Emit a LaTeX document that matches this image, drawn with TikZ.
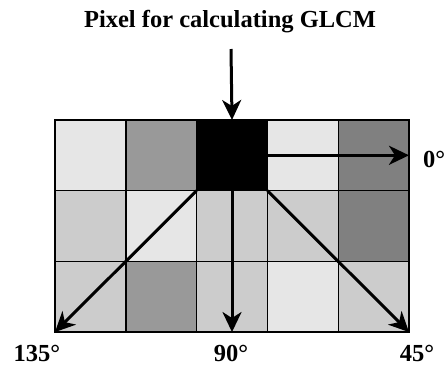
\documentclass[tikz,border=0pt]{standalone}
\usepackage{fontspec}
\setmainfont{Liberation Serif}
\usetikzlibrary{arrows.meta}
\definecolor{clair}{HTML}{E6E6E6}
\definecolor{moyen}{HTML}{CCCCCC}
\definecolor{fonce}{HTML}{999999}
\definecolor{sombre}{HTML}{808080}
\begin{document}
\begin{tikzpicture}[x=1pt,y=-1pt]
\tikzstyle{cell} = [draw, line width=1.4pt, minimum width=70.8pt, minimum height=70.67pt, inner sep=0pt, outer sep=0pt] %case de l'image
\tikzstyle{fleche} = [line width=3pt, -{Stealth[length=20pt,width=19pt,inset=6pt]}]
\tikzstyle{lbl} = [inner sep=0pt, font=\fontsize{24.5}{28}\selectfont\bfseries]

\useasboundingbox (0,0) rectangle (444,365);

%cases de la grille
\foreach \c/\f in {1/clair,2/fonce,3/black,4/clair,5/sombre}
  \node[cell,fill=\f] (c1\c) at ({55+70.8*(\c-0.5)},155.3) {};
\foreach \c/\f in {1/moyen,2/clair,3/moyen,4/moyen,5/sombre}
  \node[cell,fill=\f] (c2\c) at ({55+70.8*(\c-0.5)},226) {};
\foreach \c/\f in {1/moyen,2/fonce,3/moyen,4/clair,5/moyen}
  \node[cell,fill=\f] (c3\c) at ({55+70.8*(\c-0.5)},296.7) {};

%titre
\node[lbl,anchor=base] (titre) at (230,27) {Pixel for calculating GLCM};
\coordinate (entree) at (231,49);
\draw[fleche] (entree)--(c13.north);

%directions
\draw[fleche] (c13.east)--(c15.east);
\draw[fleche] (c13.south)--(c33.south);
\draw[fleche] (c13.south east)--(c35.south east);
\draw[fleche] (c13.south west)--(c31.south west);

%angles
\node[lbl,anchor=base west] (a0) at (423,167) {0°};
\node[lbl,anchor=base] (a45) at (417,361) {45°};
\node[lbl,anchor=base] (a90) at (231,361) {90°};
\node[lbl,anchor=base] (a135) at (37,361) {135°};
\end{tikzpicture}
\end{document}
